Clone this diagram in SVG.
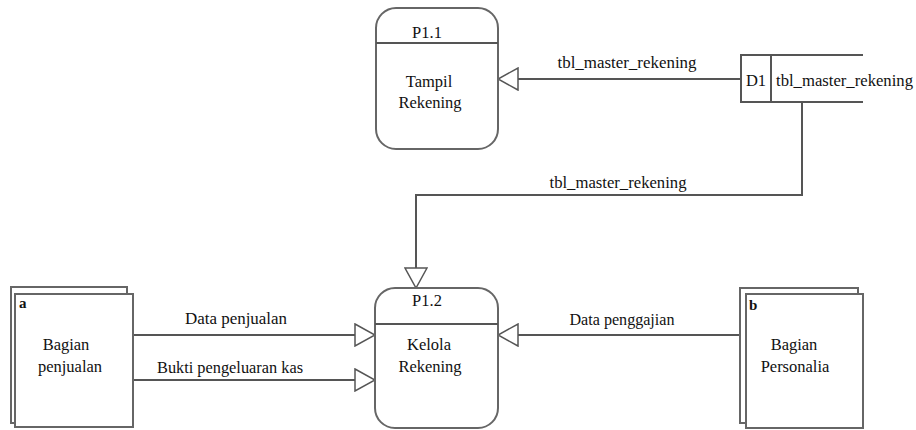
<svg xmlns="http://www.w3.org/2000/svg" width="916" height="430" viewBox="0 0 916 430">
<style>
  .box { fill: #fff; stroke: #666; stroke-width: 2; }
  .ln { fill: none; stroke: #555; stroke-width: 2; }
  .flow { fill: none; stroke: #555; stroke-width: 2; marker-end: url(#tri); }
  text { font-family: "Liberation Serif", "Times New Roman", serif; font-size: 16.5px; fill: #111; }
  .c { text-anchor: middle; }
  .id { font-weight: bold; font-size: 15px; }
</style>
<defs>
  <marker id="tri" markerUnits="userSpaceOnUse" markerWidth="22" markerHeight="24" refX="20" refY="11" orient="auto" viewBox="-1 -1 22 24">
    <path d="M0,0 L20,11 L0,22 Z" fill="#fff" stroke="#555" stroke-width="1.5"/>
  </marker>
</defs>
<rect width="916" height="430" fill="#fff"/>

<g id="connectors">
  <path class="flow" d="M741,79 H498"/>
  <text class="c" x="627" y="68" textLength="139" lengthAdjust="spacingAndGlyphs">tbl_master_rekening</text>
  <path class="flow" d="M802,102 V195 H416 V288"/>
  <text class="c" x="618" y="188" textLength="137" lengthAdjust="spacingAndGlyphs">tbl_master_rekening</text>
  <path class="flow" d="M133,335 H375"/>
  <text class="c" x="236" y="324" textLength="102" lengthAdjust="spacingAndGlyphs">Data penjualan</text>
  <path class="flow" d="M133,380 H375"/>
  <text class="c" x="230" y="373" textLength="146" lengthAdjust="spacingAndGlyphs">Bukti pengeluaran kas</text>
  <path class="flow" d="M740,335 H498"/>
  <text class="c" x="622" y="325" textLength="105" lengthAdjust="spacingAndGlyphs">Data penggajian</text>
</g>

<g id="P1.1">
  <rect class="box" x="376" y="8" width="122" height="141" rx="20" ry="20"/>
  <line class="ln" x1="376" y1="43" x2="498" y2="43"/>
  <text class="c" x="427" y="38">P1.1</text>
  <text class="c" x="429" y="87">Tampil</text>
  <text class="c" x="430" y="108">Rekening</text>
</g>

<g id="P1.2">
  <rect class="box" x="375" y="288" width="123" height="140" rx="20" ry="20"/>
  <line class="ln" x1="375" y1="324" x2="498" y2="324"/>
  <text class="c" x="427" y="306">P1.2</text>
  <text class="c" x="429" y="350">Kelola</text>
  <text class="c" x="430" y="372">Rekening</text>
</g>

<g id="D1">
  <path class="ln" d="M863,55 H741 V102 H863"/>
  <line class="ln" x1="771" y1="55" x2="771" y2="102" stroke-width="1.5"/>
  <text class="c" x="756" y="86">D1</text>
  <text x="776" y="86" textLength="137" lengthAdjust="spacingAndGlyphs">tbl_master_rekening</text>
</g>

<g id="a">
  <rect class="box" x="11" y="287" width="116" height="136"/>
  <rect class="box" x="15" y="294" width="118" height="133"/>
  <text class="id" x="19" y="308">a</text>
  <text class="c" x="66" y="350">Bagian</text>
  <text class="c" x="70" y="372">penjualan</text>
</g>

<g id="b">
  <rect class="box" x="740" y="288" width="118" height="135"/>
  <rect class="box" x="746" y="294" width="117" height="134"/>
  <text class="id" x="749" y="310">b</text>
  <text class="c" x="794" y="350">Bagian</text>
  <text class="c" x="795" y="372">Personalia</text>
</g>
</svg>
